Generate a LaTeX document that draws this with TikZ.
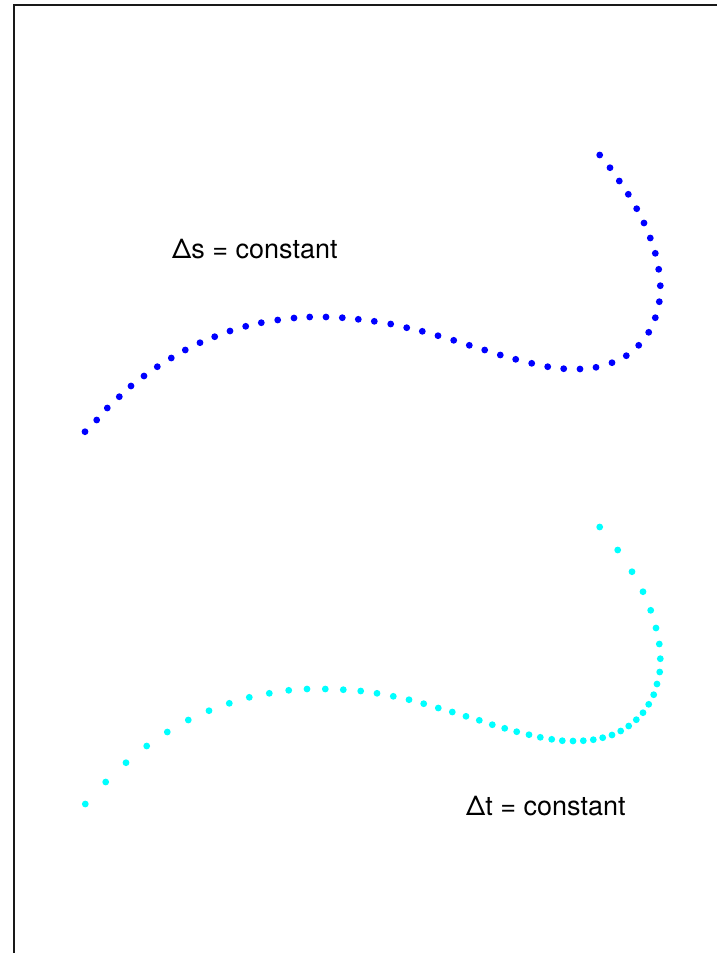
\documentclass[tikz,border=0pt]{standalone}
\usepackage{fontspec}
\setmainfont{TeX Gyre Heros}

\definecolor{arcblue}{RGB}{0,0,255}
\definecolor{paramcyan}{RGB}{0,255,255}

\begin{document}
\begin{tikzpicture}[
    x=1pt,
    y=-1pt,
    frameline/.style={
        line width=2.4pt,
        draw=black!90
    },
    caption/.style={
        font=\fontsize{27}{31}\selectfont,
        inner sep=0pt,
        anchor=base west
    },
    arcdot/.style={
        fill=arcblue
    },
    paramdot/.style={
        fill=paramcyan
    }
]

% Dot size
\def\DotR{3.4}

\useasboundingbox (0,0) rectangle (717,953);

% ==================================================
% Frame (top and left only)
% ==================================================

\draw[frameline] (14,953) -- (14,5) -- (717,5);

% ==================================================
% Equal arc length samples
% ==================================================

\foreach \px/\py in {
    85/431.7, 96.7/420, 107.3/408, 119.3/396.7, 131/386,
    144/376, 157.3/366.7, 171.3/358, 185.3/350, 200/342.7,
    214.7/336.7, 230/331, 245.7/326.3, 261.3/322.7, 277.7/320,
    294/318, 309.7/317, 326/317, 342.3/317.7, 358.3/319.3,
    374.3/321.3, 390.7/324, 406.7/327.7, 422.3/331.3, 438/335.7,
    453.7/340.3, 469.3/345.3, 484.7/350, 500.3/355, 515.7/359.3,
    531.7/363.3, 547.7/366.7, 563.7/368.7, 580/369, 596/367.3,
    612/362.7, 626.3/355.7, 638.7/345.3, 648.7/332.3, 655.3/317.7,
    659.3/301.7, 660.3/285.7, 658.7/269.3, 655.3/253.3, 650.3/238,
    644/223, 636.7/208.7, 628.3/194.3, 619.3/181, 610/167.7,
    599.7/155}
    \fill[arcdot] (\px,\py) circle (\DotR);

\node[caption] (ds) at (172,258) {Δs = constant};

% ==================================================
% Equal parameter samples
% ==================================================

\foreach \px/\py in {
    85.3/804, 105.7/782, 126/762.7, 146.7/746, 167.3/732,
    188.3/720, 209/710.7, 229.3/703.3, 249.3/697.3, 269.3/693.3,
    288.7/690.3, 307/689, 325.3/689, 343.3/689.7, 360.7/691,
    377/693.3, 393.3/696.3, 409/699.7, 423.7/703.7, 438.3/708,
    452.3/712, 466/716.3, 479.3/720.3, 492.3/724.7, 504.7/728.3,
    516.7/731.7, 529/734.7, 540.3/737.3, 551.7/739.3, 562.3/740.7,
    573/741, 583.3/740.7, 593.3/739.7, 602.7/737.7, 612/735,
    620.7/731, 628.7/726, 636.3/719.7, 643/712.7, 648.7/704.3,
    653.7/694.7, 657/684, 659.7/672, 660.3/658.7, 659.3/644,
    656/628, 650.7/610.3, 643/591.7, 632/571.7, 617.7/550,
    599.7/527}
    \fill[paramdot] (\px,\py) circle (\DotR);

\node[caption] (dt) at (466,815) {Δt = constant};

\end{tikzpicture}
\end{document}
